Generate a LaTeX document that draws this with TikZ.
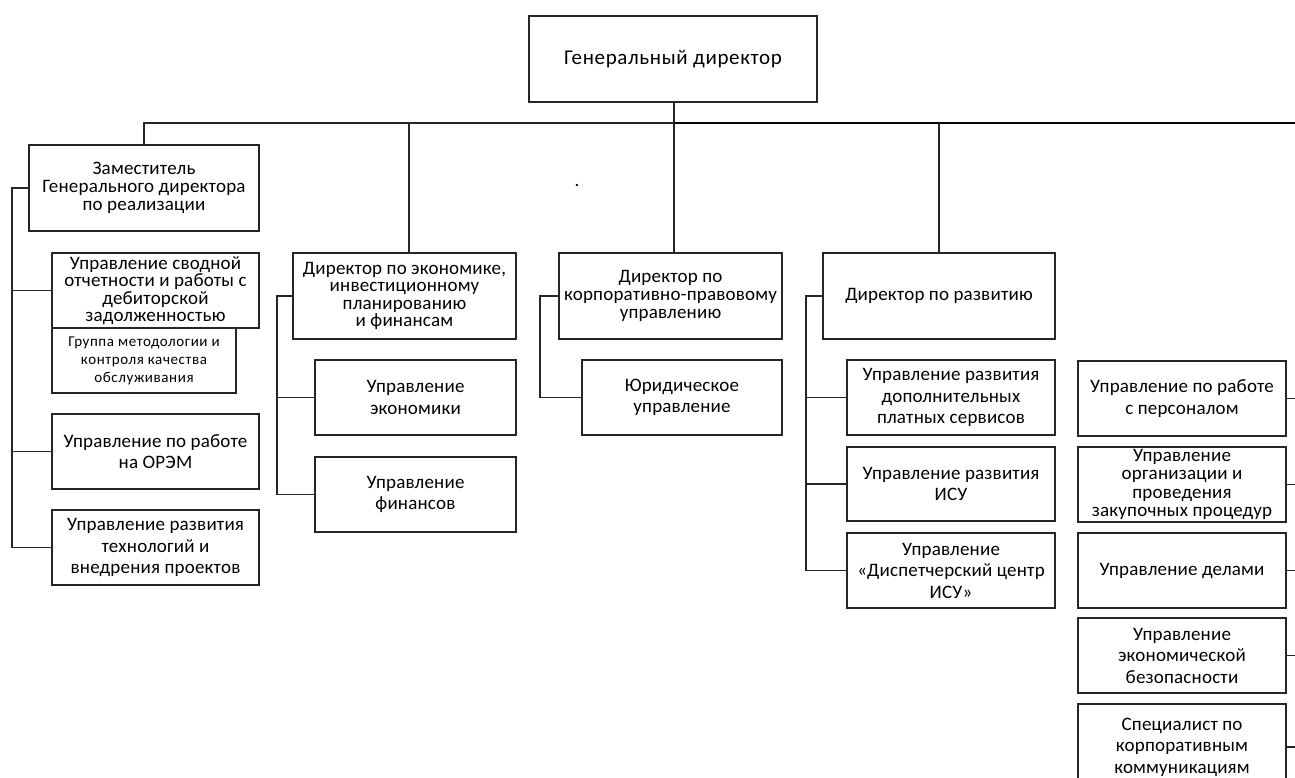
\documentclass[tikz,border=0pt]{standalone}
\usepackage{fontspec}
\setmainfont{Carlito}[LetterSpace=1]
\newfontfamily\gdfont{Carlito}[LetterSpace=3]
\newfontfamily\grpfont{Carlito}[LetterSpace=4]
\newcommand{\mainfs}{\fontsize{19}{21.5}\selectfont}
\newcommand{\tightfs}{\fontsize{19}{18.2}\selectfont}
\newcommand{\vtightfs}{\fontsize{19}{17.5}\selectfont}
\newcommand{\smallfs}{\grpfont\fontsize{15}{18}\selectfont}
\newcommand{\bigfs}{\gdfont\fontsize{21}{24}\selectfont}
\tikzset{
  box/.style={draw=black!85, line width=1.2pt, fill=white, align=center, inner sep=1pt, font=\mainfs},
  tight/.style={font=\tightfs},
  vtight/.style={font=\vtightfs},
  conn/.style={draw=black!85, line width=1.3pt},
  thickconn/.style={draw=black, line width=2pt}
}
% \orgbox[opts]{name}{x1}{y1}{x2}{y2}{text}
\newcommand{\orgbox}[7][]{%
  \node[box,#1, minimum width={(#5-#3)*1pt}, minimum height={(#6-#4)*1pt}] (#2) at ({(#3+#5)/2},{(#4+#6)/2}) {#7};}
\begin{document}
\begin{tikzpicture}[x=1pt,y=-1pt]
\useasboundingbox (0,0) rectangle (1295,777);
\clip (0,0) rectangle (1295,777);
% boxes
\orgbox[font=\bigfs]{gd}{529}{16}{817}{102}{Генеральный директор}
\orgbox[tight]{zam}{29}{145}{259}{231}{Заместитель\\Генерального директора\\по реализации}
\orgbox[vtight]{svod}{52}{253}{259}{328}{Управление сводной\\отчетности и работы с\\дебиторской\\задолженностью}
\orgbox[font=\smallfs]{grp}{52}{328}{236}{393}{Группа методологии и\\контроля качества\\обслуживания}
\orgbox{orem}{52}{414}{259}{489}{Управление по работе\\на ОРЭМ}
\orgbox{tech}{52}{510}{259}{585}{Управление развития\\технологий и\\внедрения проектов}
\orgbox[vtight]{dek}{293}{253}{516}{339}{Директор по экономике,\\инвестиционному\\планированию\\и финансам}
\orgbox{uek}{315}{360}{516}{435}{Управление\\экономики}
\orgbox{ufin}{315}{457}{516}{532}{Управление\\финансов}
\orgbox[tight]{dkp}{559}{253}{782}{339}{Директор по\\корпоративно-правовому\\управлению}
\orgbox{yur}{582}{360}{782}{435}{Юридическое\\управление}
\orgbox{drz}{823}{253}{1055}{339}{Директор по развитию}
\orgbox{uds}{847}{360}{1055}{435}{Управление развития\\дополнительных\\платных сервисов}
\orgbox{uisu}{847}{447}{1055}{521}{Управление развития\\ИСУ}
\orgbox{udc}{847}{533}{1055}{608}{Управление\\«Диспетчерский центр\\ИСУ»}
\orgbox{ra}{1078}{361}{1286}{436}{Управление по работе\\с персоналом}
\orgbox[tight]{rb}{1078}{447}{1286}{522}{Управление\\организации и\\проведения\\закупочных процедур}
\orgbox{rc}{1078}{533}{1286}{608}{Управление делами}
\orgbox{rd}{1078}{618}{1286}{693}{Управление\\экономической\\безопасности}
\orgbox{re}{1078}{704}{1286}{790}{Специалист по\\корпоративным\\коммуникациям}
\node[inner sep=0pt, font=\mainfs] (dot) at (577,185) {.};
% connector coordinates
\coordinate (hr) at (1295,123);
\coordinate (xg) at (674,0);
\coordinate (xe) at (409,0);
\coordinate (lb) at (12,0);
\coordinate (eb) at (277,0);
\coordinate (cb) at (540,0);
\coordinate (db) at (806,0);
% top level
\draw[conn] (xg |- gd.south) -- (xg |- hr);
\draw[conn] (zam.north) |- (xg |- hr);
\draw[thickconn] (xg |- hr) -- (hr);
\draw[conn] (xe |- dek.north) -- (xe |- hr);
\draw[conn] (xg |- dkp.north) -- (xg |- hr);
\draw[conn] (drz.north) -- (drz.north |- hr);
% left branch
\draw[conn] (zam.west) -| (lb |- tech.west) -- (tech.west);
\draw[conn] (lb |- svod.west) -- (svod.west);
\draw[conn] (lb |- orem.west) -- (orem.west);
% economics branch
\draw[conn] (dek.west) -| (eb |- ufin.west) -- (ufin.west);
\draw[conn] (eb |- uek.west) -- (uek.west);
% corporate branch
\draw[conn] (dkp.west) -| (cb |- yur.west) -- (yur.west);
% development branch
\draw[conn] (drz.west) -| (db |- udc.west) -- (udc.west);
\draw[conn] (db |- uds.west) -- (uds.west);
\draw[conn] (db |- uisu.west) -- (uisu.west);
% right column
\coordinate (rr) at (1295,0);
\foreach \n in {ra,rb,rc,rd,re}{\draw[conn] (\n.east) -- (\n.east -| rr);}
\end{tikzpicture}
\end{document}
